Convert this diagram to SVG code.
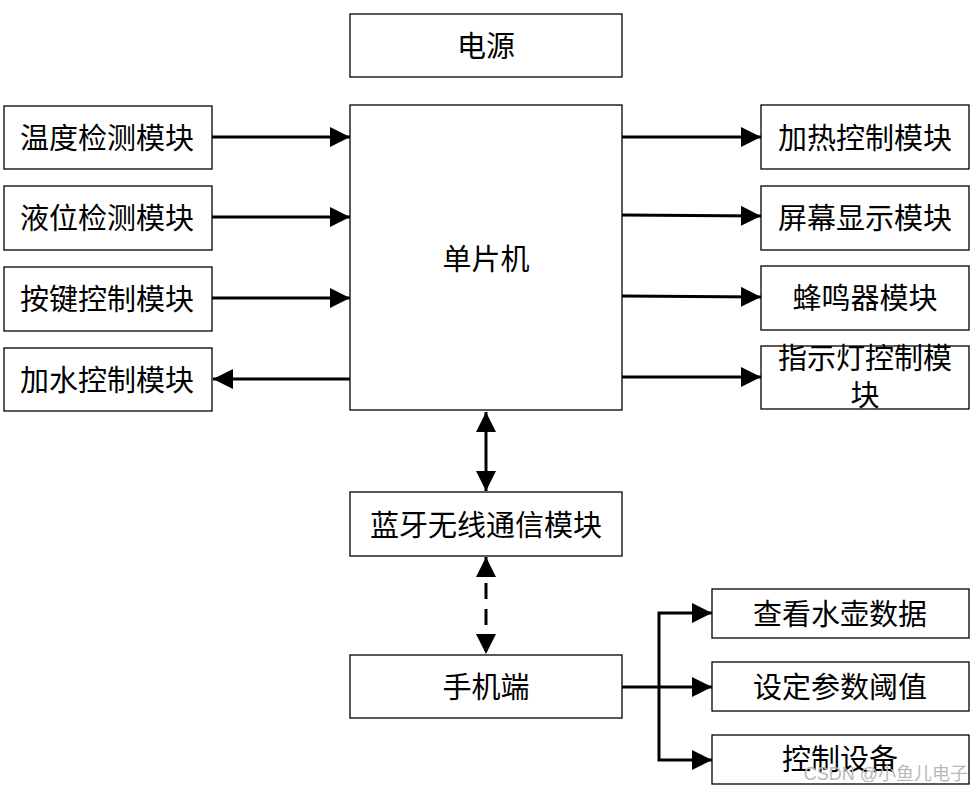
<svg xmlns="http://www.w3.org/2000/svg" width="974" height="790" viewBox="0 0 974 790">
<style>
.box{fill:#fff;stroke:#000;stroke-width:1.3}
.t{font-family:"Noto Sans CJK SC","Liberation Sans",sans-serif;font-size:29px;fill:#000;text-anchor:middle;dominant-baseline:central}
.c{fill:none;stroke:#000;stroke-width:3}
.wm{font-family:"Liberation Sans","Noto Sans CJK SC",sans-serif;font-size:18px;fill:#b8b8b8;text-anchor:end;dominant-baseline:central}
</style>
<defs>
<marker id="ah" viewBox="0 0 20 20" refX="20" refY="10" markerWidth="20" markerHeight="20" markerUnits="userSpaceOnUse" orient="auto-start-reverse">
<path d="M0,0 L20,10 L0,20 Z" fill="#000"/>
</marker>
</defs>
<g id="connectors">
<line class="c" x1="212" y1="137" x2="350" y2="137" marker-end="url(#ah)"/>
<line class="c" x1="212" y1="217" x2="350" y2="217" marker-end="url(#ah)"/>
<line class="c" x1="212" y1="298" x2="350" y2="298" marker-end="url(#ah)"/>
<line class="c" x1="350" y1="379" x2="213" y2="379" marker-end="url(#ah)"/>
<line class="c" x1="622" y1="137" x2="761" y2="137" marker-end="url(#ah)"/>
<line class="c" x1="622" y1="215" x2="761" y2="216" marker-end="url(#ah)"/>
<line class="c" x1="622" y1="296" x2="761" y2="297" marker-end="url(#ah)"/>
<line class="c" x1="622" y1="377" x2="761" y2="377" marker-end="url(#ah)"/>
<line class="c" x1="486" y1="412" x2="486" y2="491" marker-start="url(#ah)" marker-end="url(#ah)"/>
<line class="c" x1="486" y1="557" x2="486" y2="654" stroke-dasharray="16,10" marker-start="url(#ah)" marker-end="url(#ah)"/>
<line class="c" x1="622" y1="687" x2="712" y2="687" marker-end="url(#ah)"/>
<polyline class="c" points="712,613 659,613 659,760 712,760" marker-start="url(#ah)" marker-end="url(#ah)"/>
</g>
<g id="power"><rect class="box" x="350" y="14" width="272" height="63"/><text class="t" x="486" y="44">电源</text></g>
<g id="mcu"><rect class="box" x="350" y="105" width="272" height="305"/><text class="t" x="486" y="257">单片机</text></g>
<g id="temp"><rect class="box" x="4" y="106" width="208" height="63"/><text class="t" x="107" y="136">温度检测模块</text></g>
<g id="level"><rect class="box" x="4" y="186" width="208" height="64"/><text class="t" x="107" y="216">液位检测模块</text></g>
<g id="keys"><rect class="box" x="4" y="267" width="208" height="64"/><text class="t" x="107" y="297">按键控制模块</text></g>
<g id="water"><rect class="box" x="4" y="348" width="208" height="63"/><text class="t" x="107" y="378">加水控制模块</text></g>
<g id="heat"><rect class="box" x="761" y="105" width="208" height="64"/><text class="t" x="865" y="136">加热控制模块</text></g>
<g id="display"><rect class="box" x="761" y="186" width="208" height="64"/><text class="t" x="865" y="216">屏幕显示模块</text></g>
<g id="buzzer"><rect class="box" x="761" y="266" width="208" height="64"/><text class="t" x="865" y="296">蜂鸣器模块</text></g>
<g id="led"><rect class="box" x="761" y="346" width="208" height="63"/><text class="t" x="865" y="356">指示灯控制模</text><text class="t" x="865" y="393">块</text></g>
<g id="bt"><rect class="box" x="350" y="492" width="272" height="64"/><text class="t" x="486" y="523">蓝牙无线通信模块</text></g>
<g id="phone"><rect class="box" x="350" y="655" width="272" height="63"/><text class="t" x="486" y="685">手机端</text></g>
<g id="view"><rect class="box" x="712" y="589" width="257" height="49"/><text class="t" x="840" y="612">查看水壶数据</text></g>
<g id="set"><rect class="box" x="712" y="662" width="257" height="49"/><text class="t" x="840" y="685">设定参数阈值</text></g>
<g id="ctrl"><rect class="box" x="712" y="735" width="257" height="49"/><text class="t" x="840" y="757">控制设备</text></g>
<text class="wm" x="968" y="774">CSDN @小鱼儿电子</text>
</svg>
